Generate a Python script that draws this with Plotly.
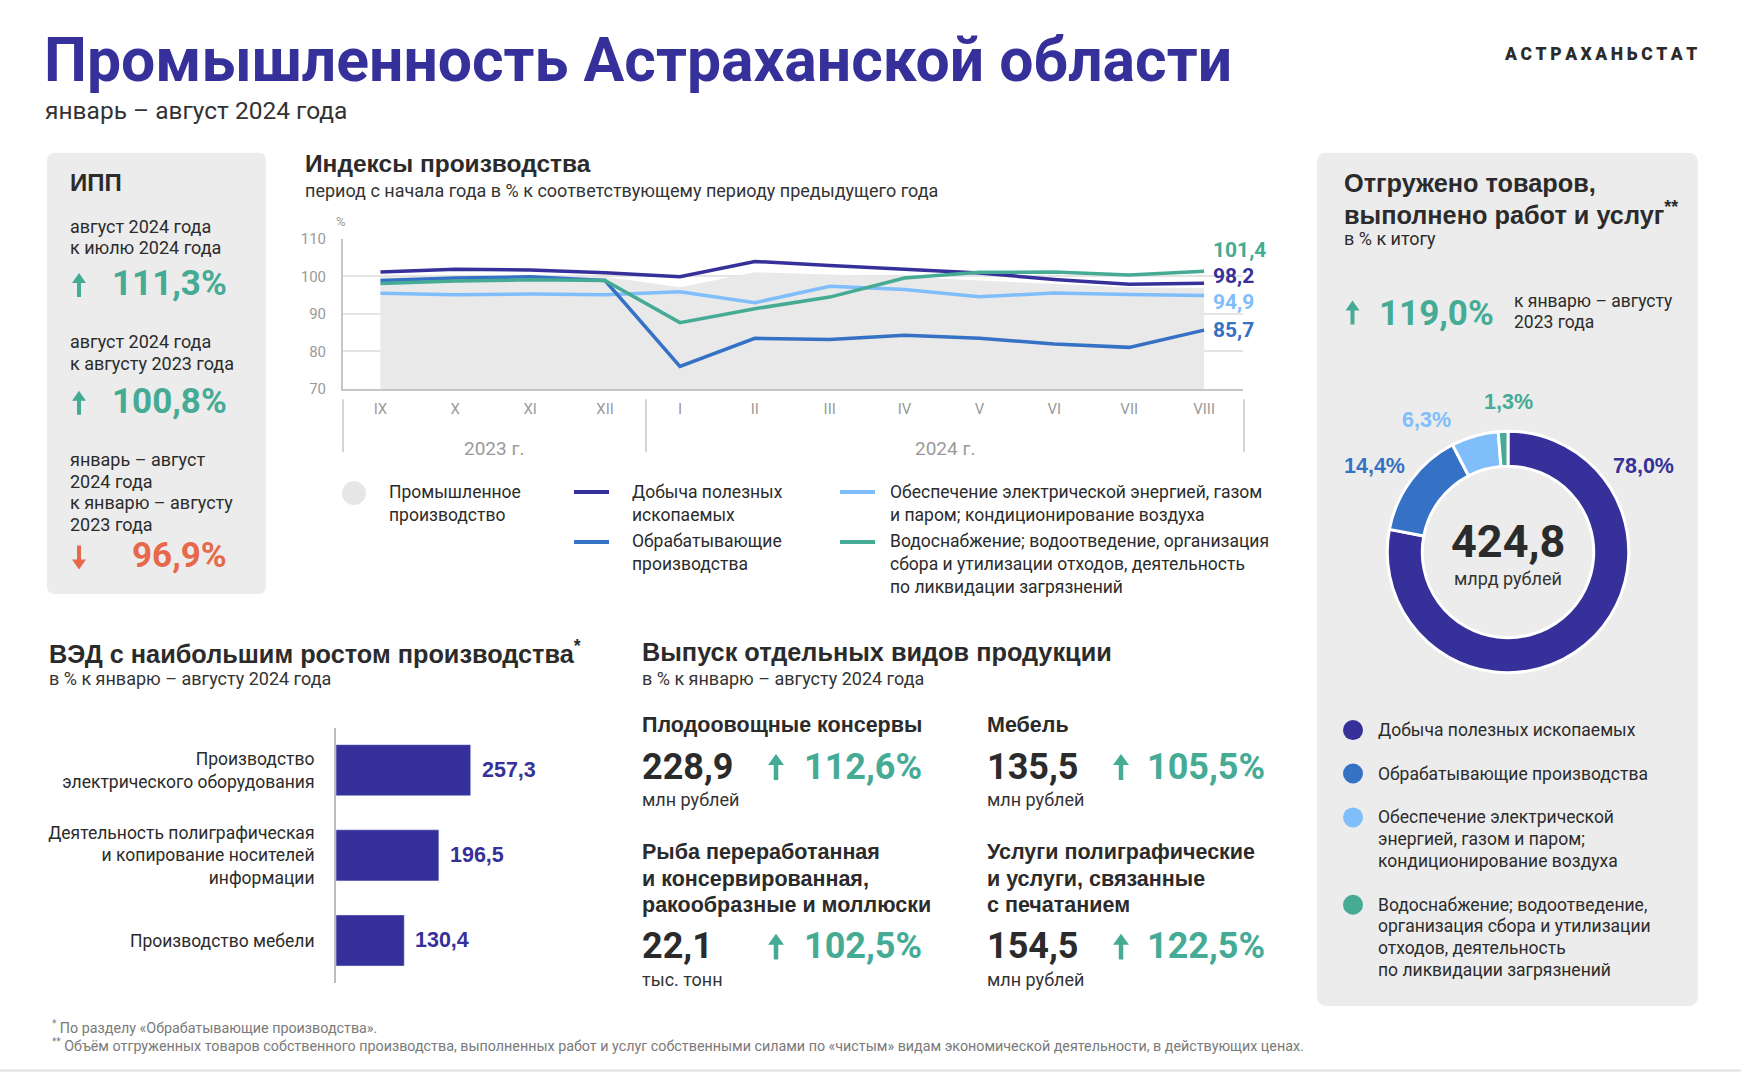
import plotly.graph_objects as go

W, H = 1741, 1080
# the photographed page is scaled vertically by 1080/1096 with an 8 px top offset;
# positions below are given in final picture pixels and mapped back here.
SC = 1080 / 1096
OFF = 8.0
def X(x): return x / W
def Y(y): return 1 - ((y / SC) - OFF) / H

FONT = "Roboto, 'Liberation Sans', Arial, sans-serif"
SFONT = "'Liberation Sans', Arial, Roboto, sans-serif"
NAVY = "#36319a"; BLUE = "#3571c4"; LBLUE = "#80bdfb"; TEAL = "#45ab95"
AREA = "#e9e9e9"; ORANGE = "#e5694a"; DARK = "#2b2b2b"; PANEL = "#ececec"; GREY = "#9a9a9a"

# ---------------- data ----------------
main_title = "Промышленность Астраханской области"
main_subtitle = "январь – август 2024 года"
brand = "АСТРАХАНЬСТАТ"

ipp_periods = [["август 2024 года", "к июлю 2024 года"],
               ["август 2024 года", "к августу 2023 года"],
               ["январь – август", "2024 года", "к январю – августу", "2023 года"]]
ipp_values = [111.3, 100.8, 96.9]

months = ["IX", "X", "XI", "XII", "I", "II", "III", "IV", "V", "VI", "VII", "VIII"]
years = ["2023 г.", "2024 г."]
industry = [99.8, 100.0, 100.1, 99.9, 97.1, 101.1, 100.4, 99.9, 98.9, 98.0, 97.1, 96.9]
mining = [101.2, 101.9, 101.7, 101.0, 99.9, 104.0, 102.9, 101.9, 100.9, 99.2, 97.9, 98.2]
manufacturing = [98.9, 99.6, 99.9, 98.9, 76.0, 83.5, 83.2, 84.3, 83.5, 82.0, 81.1, 85.7]
energy = [95.5, 95.1, 95.3, 95.1, 95.9, 93.0, 97.4, 96.5, 94.6, 95.6, 95.2, 94.9]
water = [98.1, 98.8, 99.1, 98.9, 87.7, 91.4, 94.5, 99.6, 101.1, 101.2, 100.4, 101.4]
line_legend = [["Промышленное", "производство"],
               ["Добыча полезных", "ископаемых"],
               ["Обрабатывающие", "производства"],
               ["Обеспечение электрической энергией, газом", "и паром; кондиционирование воздуха"],
               ["Водоснабжение; водоотведение, организация", "сбора и утилизации отходов, деятельность",
                "по ликвидации загрязнений"]]

shipped_growth = 119.0
shipped_total = 424.8
share_names = [["Добыча полезных ископаемых"],
               ["Обрабатывающие производства"],
               ["Обеспечение электрической", "энергией, газом и паром;", "кондиционирование воздуха"],
               ["Водоснабжение; водоотведение,", "организация сбора и утилизации",
                "отходов, деятельность", "по ликвидации загрязнений"]]
shares = [78.0, 14.4, 6.3, 1.3]

ved_labels = ["Производство<br>электрического оборудования",
              "Деятельность полиграфическая<br>и копирование носителей<br>информации",
              "Производство мебели"]
ved_values = [257.3, 196.5, 130.4]

prod_names = [["Плодоовощные консервы"], ["Мебель"],
              ["Рыба переработанная", "и консервированная,", "ракообразные и моллюски"],
              ["Услуги полиграфические", "и услуги, связанные", "с печатанием"]]
prod_values = [228.9, 135.5, 22.1, 154.5]
prod_units = ["млн рублей", "млн рублей", "тыс. тонн", "млн рублей"]
prod_growth = [112.6, 105.5, 102.5, 122.5]

footnotes = ["<sup>*</sup> По разделу «Обрабатывающие производства».",
             "<sup>**</sup> Объём отгруженных товаров собственного производства, выполненных работ и услуг собственными силами по «чистым» видам экономической деятельности, в действующих ценах."]

def fmt(v):
    return f"{v:.1f}".replace(".", ",")

def tone(v):
    return TEAL if v >= 100 else ORANGE

# ---------------- helpers ----------------
ann = []
shapes = []

def T(x, y, text, size=17, color=DARK, bold=False, xa="left", ya="middle", align="left",
      family=FONT, weight=None):
    w = weight if weight is not None else (700 if bold else 400)
    ann.append(dict(x=X(x), y=Y(y), xref="paper", yref="paper", text=text, showarrow=False,
                    xanchor=xa, yanchor=ya, align=align,
                    font=dict(size=size, color=color, family=family, weight=w)))

def L(x, first_y, lines, size, step, **kw):
    for i, line in enumerate(lines):
        T(x, first_y + i * step, line, size=size, **kw)

def path(pts, color, layer="above"):
    p = "M " + " L ".join(f"{X(a)},{Y(b)}" for a, b in pts) + " Z"
    shapes.append(dict(type="path", path=p, xref="paper", yref="paper",
                       fillcolor=color, line=dict(width=0), layer=layer))

def rrect(x0, y0, x1, y1, r, color):
    p = (f"M {X(x0+r)},{Y(y0)} L {X(x1-r)},{Y(y0)} Q {X(x1)},{Y(y0)} {X(x1)},{Y(y0+r)} "
         f"L {X(x1)},{Y(y1-r)} Q {X(x1)},{Y(y1)} {X(x1-r)},{Y(y1)} "
         f"L {X(x0+r)},{Y(y1)} Q {X(x0)},{Y(y1)} {X(x0)},{Y(y1-r)} "
         f"L {X(x0)},{Y(y0+r)} Q {X(x0)},{Y(y0)} {X(x0+r)},{Y(y0)} Z")
    shapes.append(dict(type="path", path=p, xref="paper", yref="paper",
                       fillcolor=color, line=dict(width=0), layer="below"))

def arrow_icon(cx, cy, v, h=24, hw=14, hh=10, sw=4):
    color = tone(v)
    d = -1 if v >= 100 else 1   # up arrow: tip above centre
    tip = cy + d * h / 2
    base = cy - d * h / 2
    neck = tip - d * hh
    path([(cx, tip), (cx + hw / 2, neck), (cx + sw / 2, neck), (cx + sw / 2, base),
          (cx - sw / 2, base), (cx - sw / 2, neck), (cx - hw / 2, neck)], color)

def circle(cx, cy, r, color):
    shapes.append(dict(type="circle", xref="paper", yref="paper",
                       x0=X(cx-r), x1=X(cx+r), y0=Y(cy+r), y1=Y(cy-r),
                       fillcolor=color, line=dict(width=0)))

def hline(x0, x1, y, color, w):
    shapes.append(dict(type="line", xref="paper", yref="paper", x0=X(x0), x1=X(x1),
                       y0=Y(y), y1=Y(y), line=dict(color=color, width=w)))

def vline(x, y0, y1, color, w):
    shapes.append(dict(type="line", xref="paper", yref="paper", x0=X(x), x1=X(x),
                       y0=Y(y0), y1=Y(y1), line=dict(color=color, width=w)))

fig = go.Figure()

# ---------------- header ----------------
T(42, 59.5, main_title, size=60.7, color=NAVY, bold=True)
T(43, 110, main_subtitle, size=24.5, color="#333333")
T(1699, 53, "\u2009".join(brand), size=17.5, color=DARK, weight=900, xa="right")

# ---------------- left panel (ИПП) ----------------
rrect(47, 152, 266, 594, 8, PANEL)
T(68, 182, "ИПП", size=24, bold=True, family=SFONT)
period_first = [225.5, 341.5, 459.5]
value_y = [283, 401, 556]
for per, v, py_, vy in zip(ipp_periods, ipp_values, period_first, value_y):
    L(68, py_, per, 18, 21.7)
    arrow_icon(79, vy + 1.5, v)
    T(229, vy, f"{fmt(v)}%", size=35, color=tone(v), bold=True, xa="right")

# ---------------- line chart ----------------
T(303, 162.5, "Индексы производства", size=24.5, bold=True, family=SFONT)
T(303, 190, "период с начала года в % к соответствующему периоду предыдущего года", size=18, color="#333333")
T(341, 221, "%", size=13, color=GREY, xa="center")

xs = list(range(len(months)))
fig.add_trace(go.Scatter(x=xs, y=industry, mode="lines", fill="tozeroy",
                         fillcolor=AREA, line=dict(color=AREA, width=0), xaxis="x", yaxis="y",
                         hoverinfo="skip", showlegend=False))
series = [(energy, LBLUE), (mining, NAVY), (manufacturing, BLUE), (water, TEAL)]
for ys, col in series:
    fig.add_trace(go.Scatter(x=xs, y=ys, mode="lines", line=dict(color=col, width=3.5),
                             xaxis="x", yaxis="y", showlegend=False))

end_shift = {TEAL: 21, NAVY: 7, LBLUE: -6, BLUE: 0}
for ys, col in series:
    ann.append(dict(x=xs[-1], y=ys[-1], xref="x", yref="y", text=fmt(ys[-1]), showarrow=False,
                    xanchor="left", yanchor="middle", xshift=7, yshift=end_shift[col],
                    font=dict(size=21, color=col, family=FONT, weight=700)))

for sx in (343, 646, 1244):
    vline(sx, 399, 452, "#c6c6c6", 1.5)
T(494, 448, years[0], size=19, color=GREY, xa="center")
T(945, 448, years[1], size=19, color=GREY, xa="center")

circle(354, 493, 12, "#e6e6e6")
L(387, 492, line_legend[0], 17.5, 23)
hline(574, 609, 492, NAVY, 4)
L(630, 492, line_legend[1], 17.5, 23)
hline(574, 609, 542, BLUE, 4)
L(630, 541, line_legend[2], 17.5, 23)
hline(840, 875, 492, LBLUE, 4)
L(888, 492, line_legend[3], 17.5, 23)
hline(840, 875, 542, TEAL, 4)
L(888, 541, line_legend[4], 17.5, 23)

# ---------------- right panel ----------------
rrect(1317, 152, 1698, 1007, 10, PANEL)
L(1342, 182, ["Отгружено товаров,", "выполнено работ и услуг<sup>**</sup>"], 25.3, 30,
  bold=True, family=SFONT)
T(1342, 238, "в % к итогу", size=18)
arrow_icon(1352.5, 312, shipped_growth)
T(1377, 313, f"{fmt(shipped_growth)}%", size=35, color=tone(shipped_growth), bold=True)
L(1512, 300, ["к январю – августу", "2023 года"], 17.5, 22)

pie_colors = [NAVY, BLUE, LBLUE, TEAL]
fig.add_trace(go.Pie(values=shares, labels=[" ".join(n) for n in share_names], sort=False,
                     direction="clockwise", rotation=0, hole=0.71, textinfo="none",
                     hoverinfo="label+value",
                     marker=dict(colors=pie_colors, line=dict(color="#ffffff", width=3)),
                     domain=dict(x=[X(1387), X(1629)], y=[Y(673), Y(431)]),
                     showlegend=False))
share_pos = [(1643, 466), (1374, 466), (1426, 420), (1508, 402)]
for v, col, (lx, ly) in zip(shares, pie_colors, share_pos):
    T(lx, ly, f"{fmt(v)}%", size=21.5, color=col, bold=True, xa="center", family=SFONT)
T(1508, 542, fmt(shipped_total), size=45, bold=True, xa="center")
T(1508, 579, "млрд рублей", size=18, color="#333333", xa="center")

leg_y = [730.5, 774, 818, 905.5]
for name, col, ly in zip(share_names, pie_colors, leg_y):
    circle(1353, ly, 10, col)
    L(1376, ly, name, 17.5, 21.8)

# ---------------- bar chart ----------------
T(47, 652, "ВЭД с наибольшим ростом производства<sup>*</sup>", size=25.3, bold=True, family=SFONT)
T(47, 679, "в % к январю – августу 2024 года", size=18, color="#333333")

fig.add_trace(go.Bar(x=ved_values, y=ved_labels, orientation="h", marker=dict(color=NAVY),
                     width=0.6, xaxis="x2", yaxis="y2", showlegend=False))
for v, lab in zip(ved_values, ved_labels):
    ann.append(dict(x=v, y=lab, xref="x2", yref="y2", text=fmt(v), showarrow=False,
                    xanchor="left", yanchor="middle", xshift=9,
                    font=dict(size=21.5, color=NAVY, family=SFONT, weight=700)))

# ---------------- products ----------------
T(640, 652.5, "Выпуск отдельных видов продукции", size=25.3, bold=True, family=SFONT)
T(640, 679, "в % к январю – августу 2024 года", size=18, color="#333333")
col_x = [640, 985, 640, 985]
arrow_x = [776, 1121, 776, 1121]
num_x = [802, 1145, 802, 1145]
head_first = [725, 725, 853, 853]
val_y = [767, 767, 947, 947]
unit_y = [800, 800, 980, 980]
for i in range(4):
    L(col_x[i], head_first[i], prod_names[i], 21.5, 26.5, bold=True, family=SFONT)
    T(col_x[i], val_y[i], fmt(prod_values[i]), size=36, bold=True)
    arrow_icon(arrow_x[i], val_y[i] + 0.5, prod_growth[i], h=26, hw=16, hh=11, sw=4.5)
    T(num_x[i], val_y[i], f"{fmt(prod_growth[i])}%", size=36, color=tone(prod_growth[i]), bold=True)
    T(col_x[i], unit_y[i], prod_units[i], size=18, color="#333333")

# ---------------- footnotes ----------------
T(50, 1028, footnotes[0], size=14.3, color="#7a7a7a")
T(50, 1046, footnotes[1], size=14.3, color="#7a7a7a")
hline(0, 1741, 1071.5, "#e0e0e0", 2)

# ---------------- layout ----------------
fig.update_layout(
    width=W, height=H, autosize=False,
    margin=dict(l=0, r=0, t=0, b=0, pad=0),
    paper_bgcolor="#ffffff", plot_bgcolor="rgba(0,0,0,0)",
    separators=", ",
    showlegend=False,
    font=dict(family=FONT, color=DARK),
    annotations=ann, shapes=shapes,
    xaxis=dict(domain=[X(343), X(1243)], range=[-0.5, 11.52], anchor="y",
               tickmode="array", tickvals=xs, ticktext=months,
               showgrid=False, zeroline=False, showline=True, linecolor="#c6c6c6", linewidth=2,
               ticks="", tickfont=dict(size=15, color=GREY, family=FONT),
               ticklabelstandoff=5, fixedrange=True),
    yaxis=dict(domain=[Y(388.7), Y(238.3)], range=[70, 110], anchor="x",
               tickmode="array", tickvals=[70, 80, 90, 100, 110],
               showgrid=True, gridcolor="#e4e4e4", gridwidth=1.5, zeroline=False,
               showline=True, linecolor="#c6c6c6", linewidth=2, ticks="",
               tickfont=dict(size=15, color=GREY, family=FONT), ticklabelstandoff=12,
               fixedrange=True),
    xaxis2=dict(domain=[X(336), X(336 + 0.5235 * 300)], range=[0, 300], anchor="y2",
                visible=False, fixedrange=True),
    yaxis2=dict(domain=[Y(984), Y(728)], anchor="x2", type="category",
                categoryorder="array", categoryarray=ved_labels, autorange="reversed",
                showline=True, linecolor="#bdbdbd", linewidth=2, showgrid=False, zeroline=False,
                ticks="", tickfont=dict(size=17.5, color=DARK, family=FONT),
                ticklabelstandoff=16, fixedrange=True),
)

css = ("var s=document.createElement('style');"
       "s.innerHTML='html,body{margin:0!important;padding:0!important;overflow:hidden;}';"
       "document.head.appendChild(s);")
fig.write_html("out.html", include_plotlyjs=True, config={"displayModeBar": False},
               post_script=css)
